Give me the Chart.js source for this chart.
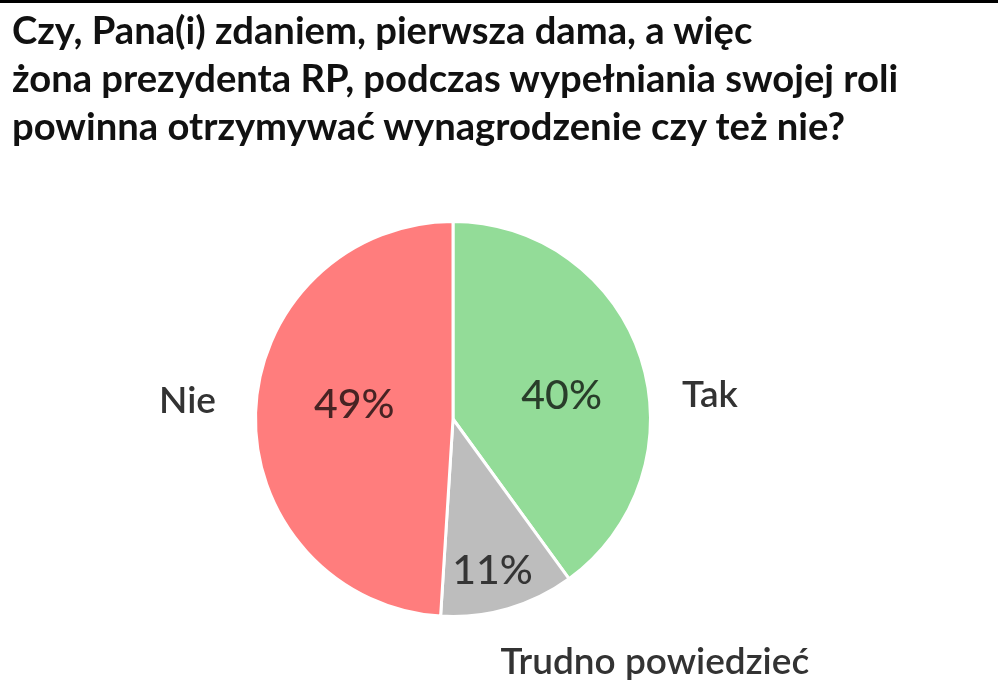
<!DOCTYPE html>
<html>
<head>
<meta charset="utf-8">
<script src="https://cdn.jsdelivr.net/npm/chart.js@4"></script>
<style>
  html, body { margin: 0; padding: 0; background: #fff; }
  body { width: 998px; height: 698px; position: relative; overflow: hidden; border-top: 3px solid #000; box-sizing: border-box; }
  #title {
    position: absolute; left: 12px; top: 2px; margin: 0;
    font-family: Lato, sans-serif; font-weight: 700; font-size: 38.2px; line-height: 48px;
    color: #111;
  }
  #wrap { position: absolute; left: 0; top: 0; width: 998px; height: 698px; }
</style>
</head>
<body>
<div id="wrap"><canvas id="pie"></canvas></div>
<h1 id="title">Czy, Pana(i) zdaniem, pierwsza dama, a więc<br>żona prezydenta RP, podczas wypełniania swojej roli<br>powinna otrzymywać wynagrodzenie czy też nie?</h1>
<script>
const labels = ['Tak', 'Trudno powiedzieć', 'Nie'];
const values = [40, 11, 49];
const colors = ['#93dc98', '#bdbdbd', '#ff7d7d'];

// where the texts sit, relative to the pie centre, in units of the radius
const innerPos = [[0.55, -0.12], [0.20, 0.77], [-0.50, -0.07]];
const outerPos = [[1.16, -0.12, 'left'], [0.24, 1.23, 'left'], [-1.20, -0.09, 'right']];

const pieLabels = {
    id: 'pieLabels',
    afterDatasetsDraw(chart) {
        const ctx = chart.ctx;
        const arcs = chart.getDatasetMeta(0).data;
        ctx.save();
        ctx.textBaseline = 'middle';
        arcs.forEach((arc, i) => {
            const r = arc.outerRadius;
            ctx.font = '500 41px Lato';
            ctx.fillStyle = 'rgba(0,0,0,0.72)';
            ctx.textAlign = 'center';
            ctx.fillText(values[i] + '%', arc.x + innerPos[i][0] * r, arc.y + innerPos[i][1] * r);
            ctx.font = '600 37px Lato';
            ctx.fillStyle = '#333';
            ctx.textAlign = outerPos[i][2];
            ctx.fillText(labels[i], arc.x + outerPos[i][0] * r, arc.y + outerPos[i][1] * r);
        });
        ctx.restore();
    }
};

new Chart(document.getElementById('pie'), {
    type: 'pie',
    data: {
        labels: labels,
        datasets: [{
            data: values,
            backgroundColor: colors,
            borderColor: '#fff',
            borderWidth: 3,
            hoverOffset: 0
        }]
    },
    options: {
        responsive: true,
        maintainAspectRatio: false,
        animation: false,
        layout: { padding: { left: 254, right: 346, top: 217, bottom: 83 } },
        plugins: {
            legend: { display: false },
            tooltip: { enabled: false }
        }
    },
    plugins: [pieLabels]
});
</script>
</body>
</html>
